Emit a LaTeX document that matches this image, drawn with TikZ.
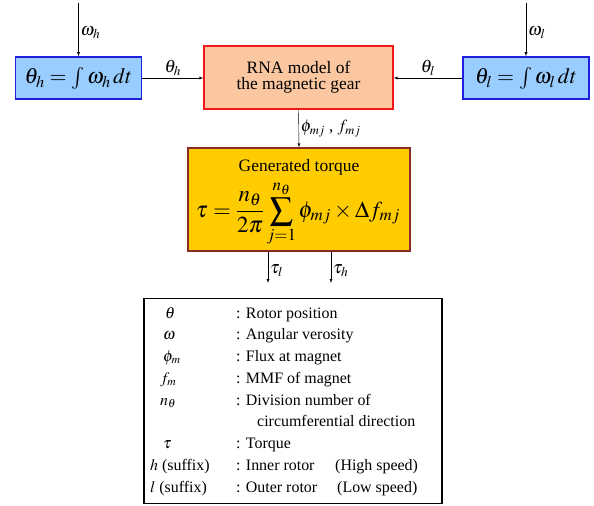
\documentclass[tikz,border=0pt]{standalone}
\usepackage{mathptmx}
\usepackage[no-math]{fontspec}
\setmainfont{Liberation Serif}
\usetikzlibrary{arrows}
\usepackage{xcolor}
\definecolor{intfill}{HTML}{99CCFF}
\definecolor{intedge}{HTML}{1F1FE0}
\definecolor{rnafill}{HTML}{FAC7A0}
\definecolor{rnaedge}{HTML}{F01818}
\definecolor{tqfill}{HTML}{FFCC00}
\definecolor{tqedge}{HTML}{8C2A2A}

\begin{document}
\begin{tikzpicture}[x=1bp, y=-1bp, >=latex,
    intbox/.style={draw=intedge, line width=1.6bp, fill=intfill, minimum width=126bp, minimum height=42bp, inner sep=0pt, font=\fontsize{22}{24}\selectfont},
    rnabox/.style={draw=rnaedge, line width=1.4bp, fill=rnafill, minimum width=189bp, minimum height=63bp, align=center, font=\fontsize{17.5}{16}\selectfont},
    tqbox/.style={draw=tqedge, line width=1.4bp, fill=tqfill, minimum width=222bp, minimum height=103bp, inner sep=0pt},
    sig/.style={font=\fontsize{18}{20}\selectfont, inner sep=2bp},
    leg/.style={anchor=base west, inner sep=0pt, font=\fontsize{16}{18}\selectfont}]
    \useasboundingbox (0,0) rectangle (594,506);

    % Bloques
    \node (lint) [intbox] at (78.5,78) {$\theta_h = \int \omega_h\, dt$};
    \node (rint) [intbox] at (526,78) {$\theta_l = \int \omega_l\, dt$};
    \node (rna) [rnabox] at (298.5,77.5) {RNA model of\\the magnetic gear};
    \node (tq) [tqbox] at (299,199.5) {};
    \node (tqtitle) [font=\fontsize{17.5}{20}\selectfont, inner sep=0pt] at (299,167) {Generated torque};
    \node (tqeq) [font=\fontsize{23}{27}\selectfont, inner sep=0pt] at (298,214)
        {$\displaystyle \tau = \frac{n_\theta}{2\pi}\sum_{j=1}^{n_\theta}\phi_{mj}\times\Delta f_{mj}$};

    % Entradas
    \coordinate (whin) at (78.5,3);
    \coordinate (wlin) at (526,3);
    \draw[->] (whin) -- (lint.north) node[sig, pos=0.55, right] {$\omega_h$};
    \draw[->] (wlin) -- (rint.north) node[sig, pos=0.55, right] {$\omega_l$};
    \draw[->] (lint.east) -- (rna.west |- lint.east) node[sig, midway, above] {$\theta_h$};
    \draw[->] (rint.west) -- (rna.east |- rint.west) node[sig, midway, above] {$\theta_l$};
    \draw[->] (rna.south) -- (tq.north) node[sig, midway, right, font=\fontsize{17}{19}\selectfont] {$\phi_{mj}$ , $f_{mj}$};

    % Salidas
    \coordinate (tlout) at (268,283);
    \coordinate (thout) at (331,283);
    \draw[->] (tq.south -| tlout) -- (tlout) node[sig, pos=0.6, right] {$\tau_l$};
    \draw[->] (tq.south -| thout) -- (thout) node[sig, pos=0.6, right] {$\tau_h$};

    % Leyenda
    \node (legend) [draw, line width=1.3bp, minimum width=298bp, minimum height=205bp] at (293,401) {};
    \foreach \x/\y/\s/\t in {165/318/{$\theta$}/{Rotor position},
                             163/339.75/{$\omega$}/{Angular verosity},
                             163/361.5/{$\phi_m$}/{Flux at magnet},
                             160/383.25/{$f_m$}/{MMF of magnet},
                             160/405/{$n_\theta$}/{Division number of},
                             163/448.5/{$\tau$}/{Torque},
                             150/470.25/{$h$ (suffix)}/{Inner rotor},
                             150/492/{$l$ (suffix)}/{Outer rotor}} {
        \node[leg] at (\x,\y) {\s};
        \node[leg] at (236,\y) {: \t};
    }
    \node[leg] at (257,426.75) {circumferential direction};
    \node[leg] at (335,470.25) {(High speed)};
    \node[leg] at (337,492) {(Low speed)};
\end{tikzpicture}
\end{document}
